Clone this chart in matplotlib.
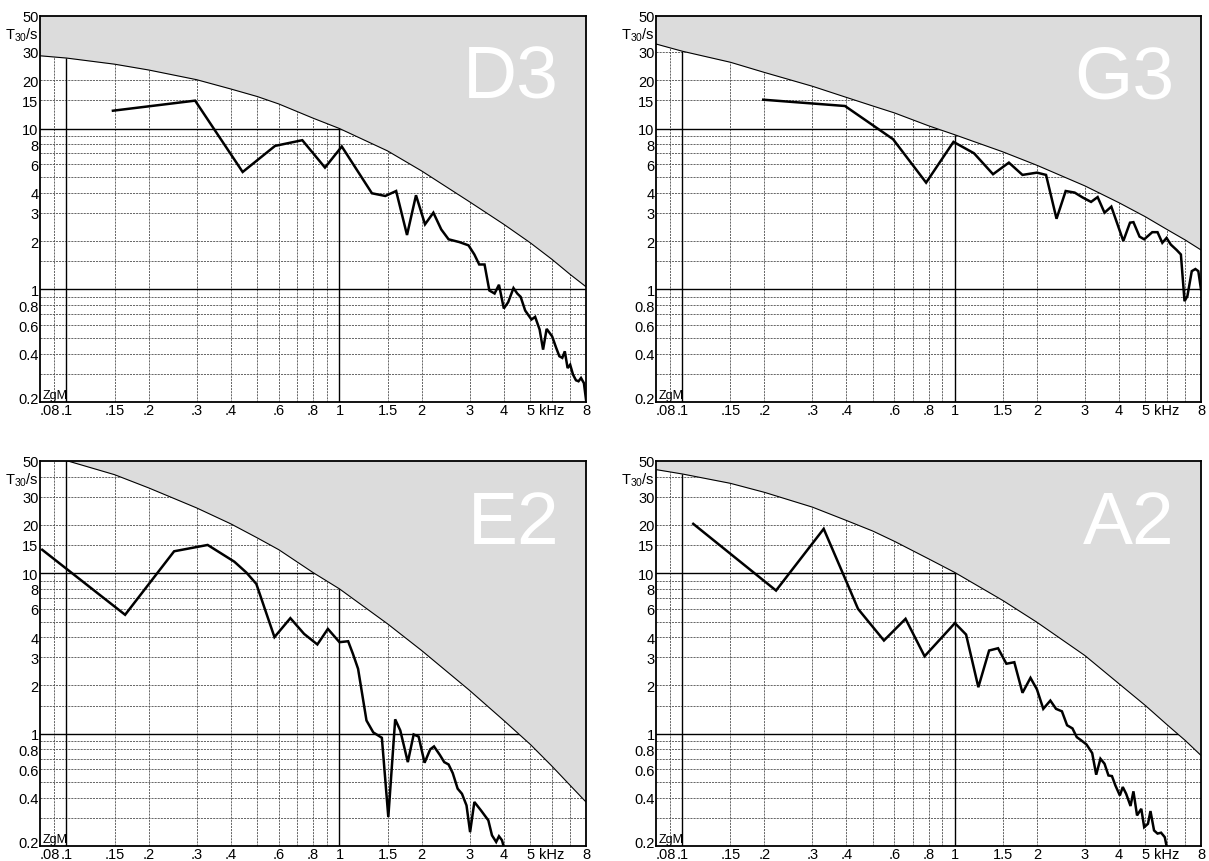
import matplotlib
matplotlib.use('Agg')
import matplotlib.pyplot as plt
from matplotlib.transforms import ScaledTranslation

plt.rcParams['font.family'] = ['Liberation Sans', 'DejaVu Sans']
plt.rcParams['mathtext.fontset'] = 'custom'
plt.rcParams['mathtext.rm'] = 'Liberation Sans'

# frequencies (kHz) where the limit curve was read
lim_freq = [0.08, 0.1, 0.15, 0.2, 0.3, 0.4, 0.5, 0.6, 0.8, 1, 1.5, 2, 3, 4, 5, 6, 7, 8]

# D3
d3_lim = [28.3, 27.4, 25.1, 23.1, 20.1, 17.6, 15.8, 14.2, 11.6, 10.0, 7.26, 5.45, 3.50, 2.54, 1.95, 1.54, 1.24, 1.04]
d3_freq = [0.148, 0.296, 0.442, 0.581, 0.731, 0.885, 1.02, 1.315, 1.472, 1.613, 1.768, 1.907, 2.058, 2.208,
           2.36, 2.51, 2.75, 2.97, 3.12, 3.25, 3.40, 3.54, 3.70, 3.84, 4.00, 4.15, 4.34, 4.48, 4.61, 4.79,
           5.05, 5.21, 5.41, 5.57, 5.74, 6.01, 6.22, 6.39, 6.55, 6.69, 6.85, 7.00, 7.17, 7.35, 7.51, 7.67,
           7.86, 8.0]
d3_t30 = [12.9, 14.9, 5.37, 7.80, 8.46, 5.72, 7.73, 3.96, 3.81, 4.09, 2.18, 3.85, 2.54, 3.00,
          2.36, 2.05, 1.97, 1.88, 1.65, 1.43, 1.43, 0.986, 0.944, 1.07, 0.762, 0.834, 1.02, 0.944, 0.90, 0.74,
          0.651, 0.676, 0.564, 0.423, 0.569, 0.512, 0.434, 0.385, 0.376, 0.413, 0.325, 0.341, 0.296, 0.273,
          0.269, 0.282, 0.262, 0.207]

# G3
g3_lim = [33.5, 30.2, 25.8, 22.3, 18.3, 15.6, 13.8, 12.5, 10.4, 9.14, 7.16, 5.91, 4.40, 3.46, 2.83, 2.36, 2.03, 1.76]
g3_freq = [0.198, 0.395, 0.593, 0.784, 0.988, 1.175, 1.38, 1.578, 1.77, 2.0, 2.16, 2.36, 2.55, 2.75,
           2.95, 3.16, 3.34, 3.54, 3.75, 3.97, 4.15, 4.39, 4.52, 4.76, 4.95, 5.30, 5.54, 5.77, 5.98, 6.20,
           6.51, 6.75, 6.96, 7.13, 7.40, 7.63, 7.82, 8.0]
g3_t30 = [15.1, 13.8, 8.58, 4.61, 8.26, 7.02, 5.20, 6.14, 5.15, 5.32, 5.15, 2.75, 4.09, 4.00,
          3.72, 3.50, 3.75, 3.00, 3.27, 2.48, 2.0, 2.60, 2.62, 2.13, 2.05, 2.27, 2.27, 1.95, 2.09, 1.90,
          1.76, 1.65, 0.846, 0.909, 1.30, 1.34, 1.30, 1.0]

# E2
e2_lim = [56.0, 50.3, 41.1, 34.0, 25.5, 20.3, 16.6, 14.0, 10.1, 7.99, 4.84, 3.30, 1.86, 1.21, 0.859, 0.629, 0.477, 0.376]
e2_freq = [0.0815, 0.164, 0.248, 0.329, 0.412, 0.456, 0.496, 0.578, 0.661, 0.742, 0.830, 0.907, 1.0, 1.076,
           1.12, 1.17, 1.20, 1.256, 1.33, 1.43, 1.51, 1.60, 1.67, 1.78, 1.87, 1.95, 2.05, 2.15, 2.22, 2.33,
           2.42, 2.51, 2.60, 2.71, 2.81, 2.92, 3.01, 3.12, 3.30, 3.51, 3.62, 3.75, 3.84, 3.94, 3.99]
e2_t30 = [14.0, 5.51, 13.7, 15.0, 11.8, 10.1, 8.58, 4.0, 5.25, 4.19, 3.60, 4.50, 3.72, 3.77,
          3.15, 2.54, 1.95, 1.21, 1.02, 0.944, 0.303, 1.23, 1.05, 0.666, 0.99, 0.96, 0.66, 0.80, 0.834, 0.74,
          0.666, 0.644, 0.569, 0.455, 0.423, 0.358, 0.244, 0.376, 0.333, 0.289, 0.233, 0.212, 0.230, 0.217, 0.20]

# A2
a2_lim = [44.2, 41.5, 36.3, 31.9, 25.8, 21.3, 18.3, 15.8, 12.3, 10.1, 6.76, 4.95, 3.07, 2.05, 1.50, 1.14, 0.909, 0.733]
a2_freq = [0.1096, 0.2206, 0.330, 0.4055, 0.441, 0.549, 0.659, 0.774, 1.0, 1.099, 1.219, 1.335, 1.44, 1.545,
           1.652, 1.77, 1.894, 2.0, 2.11, 2.24, 2.35, 2.47, 2.58, 2.70, 2.80, 2.91, 3.04, 3.19, 3.30, 3.42,
           3.54, 3.66, 3.77, 3.88, 4.03, 4.13, 4.25, 4.41, 4.52, 4.66, 4.83, 4.95, 5.11, 5.22, 5.38, 5.54,
           5.71, 5.89, 5.98]
a2_t30 = [20.3, 7.80, 18.9, 8.38, 6.0, 3.81, 5.20, 3.04, 4.89, 4.15, 1.95, 3.30, 3.41, 2.73,
          2.79, 1.80, 2.23, 1.89, 1.43, 1.61, 1.43, 1.38, 1.13, 1.08, 0.953, 0.909, 0.858, 0.758, 0.556, 0.699,
          0.651, 0.55, 0.545, 0.477, 0.413, 0.466, 0.423, 0.355, 0.438, 0.310, 0.341, 0.262, 0.275, 0.330, 0.250, 0.239,
          0.242, 0.227, 0.20]

# axis ticks and grid
xticks = [0.08, 0.1, 0.15, 0.2, 0.3, 0.4, 0.6, 0.8, 1, 1.5, 2, 3, 4, 5, 6, 8]
xticklabels = ['.08', '.1', '.15', '.2', '.3', '.4', '.6', '.8', '1', '1.5', '2', '3', '4', '5', 'kHz', '8']
yticks = [0.2, 0.4, 0.6, 0.8, 1, 2, 3, 4, 6, 8, 10, 15, 20, 30, 40, 50]
yticklabels = ['0.2', '0.4', '0.6', '0.8', '1', '2', '3', '4', '6', '8', '10', '15', '20', '30',
               'T$_{30}$/s', '50']
xgrid = [0.09, 0.15, 0.2, 0.3, 0.4, 0.5, 0.6, 0.7, 0.8, 0.9, 1.5, 2, 3, 4, 5, 6, 7]
ygrid = [0.3, 0.4, 0.5, 0.6, 0.7, 0.8, 0.9, 1.5, 2, 3, 4, 5, 6, 7, 8, 9, 15, 20, 30, 40]

W, H = 1209, 862
fig = plt.figure(figsize=(W / 100, H / 100), dpi=100)

panels = [
    ('D3', d3_freq, d3_t30, d3_lim, (40, 17, 546, 386)),
    ('G3', g3_freq, g3_t30, g3_lim, (656, 17, 545, 386)),
    ('E2', e2_freq, e2_t30, e2_lim, (40, 462, 546, 385)),
    ('A2', a2_freq, a2_t30, a2_lim, (656, 462, 545, 385)),
]

for name, freq, t30, lim, (px, py, pw, ph) in panels:
    ax = fig.add_axes([px / W, (H - py - ph) / H, pw / W, ph / H])
    ax.set_xscale('log')
    ax.set_yscale('log')
    ax.set_xlim(0.08, 8)
    ax.set_ylim(0.2, 50)

    for g in xgrid:
        ax.axvline(g, color='0.3', lw=0.6, dashes=(2.5, 1.2), zorder=1)
    for g in ygrid:
        ax.axhline(g, color='0.3', lw=0.6, dashes=(2.5, 1.2), zorder=1)
    for g in [0.1, 1]:
        ax.axvline(g, color='black', lw=1.0, zorder=1.5)
    for g in [1, 10]:
        ax.axhline(g, color='black', lw=1.0, zorder=1.5)

    # region above the limit curve
    ax.fill_between(lim_freq, lim, 100, color='#dcdcdc', lw=0, zorder=2)
    ax.plot(lim_freq, lim, color='black', lw=0.8, zorder=3)

    ax.plot(freq, t30, color='black', lw=1.8, zorder=4, solid_joinstyle='miter')

    ax.text(0.951, 0.928, name, transform=ax.transAxes, ha='right', va='top',
            fontsize=54, color='white', zorder=5)
    ax.text(0.004, 0.003, 'ZgM', transform=ax.transAxes, ha='left', va='bottom',
            fontsize=9, color='black', zorder=5)

    ax.minorticks_off()
    ax.set_xticks(xticks)
    ax.set_xticklabels(xticklabels)
    ax.set_yticks(yticks)
    ax.set_yticklabels(yticklabels)
    ax.tick_params(length=0, labelsize=10.5, pad=1)
    ax.get_xticklabels()[0].set_ha('left')
    lab = ax.get_yticklabels()[0]
    lab.set_transform(lab.get_transform() + ScaledTranslation(0, 3 / 72, fig.dpi_scale_trans))
    for sp in ax.spines.values():
        sp.set_linewidth(1.3)
        sp.set_zorder(6)

plt.savefig('out.png', dpi=100)
plt.close()
